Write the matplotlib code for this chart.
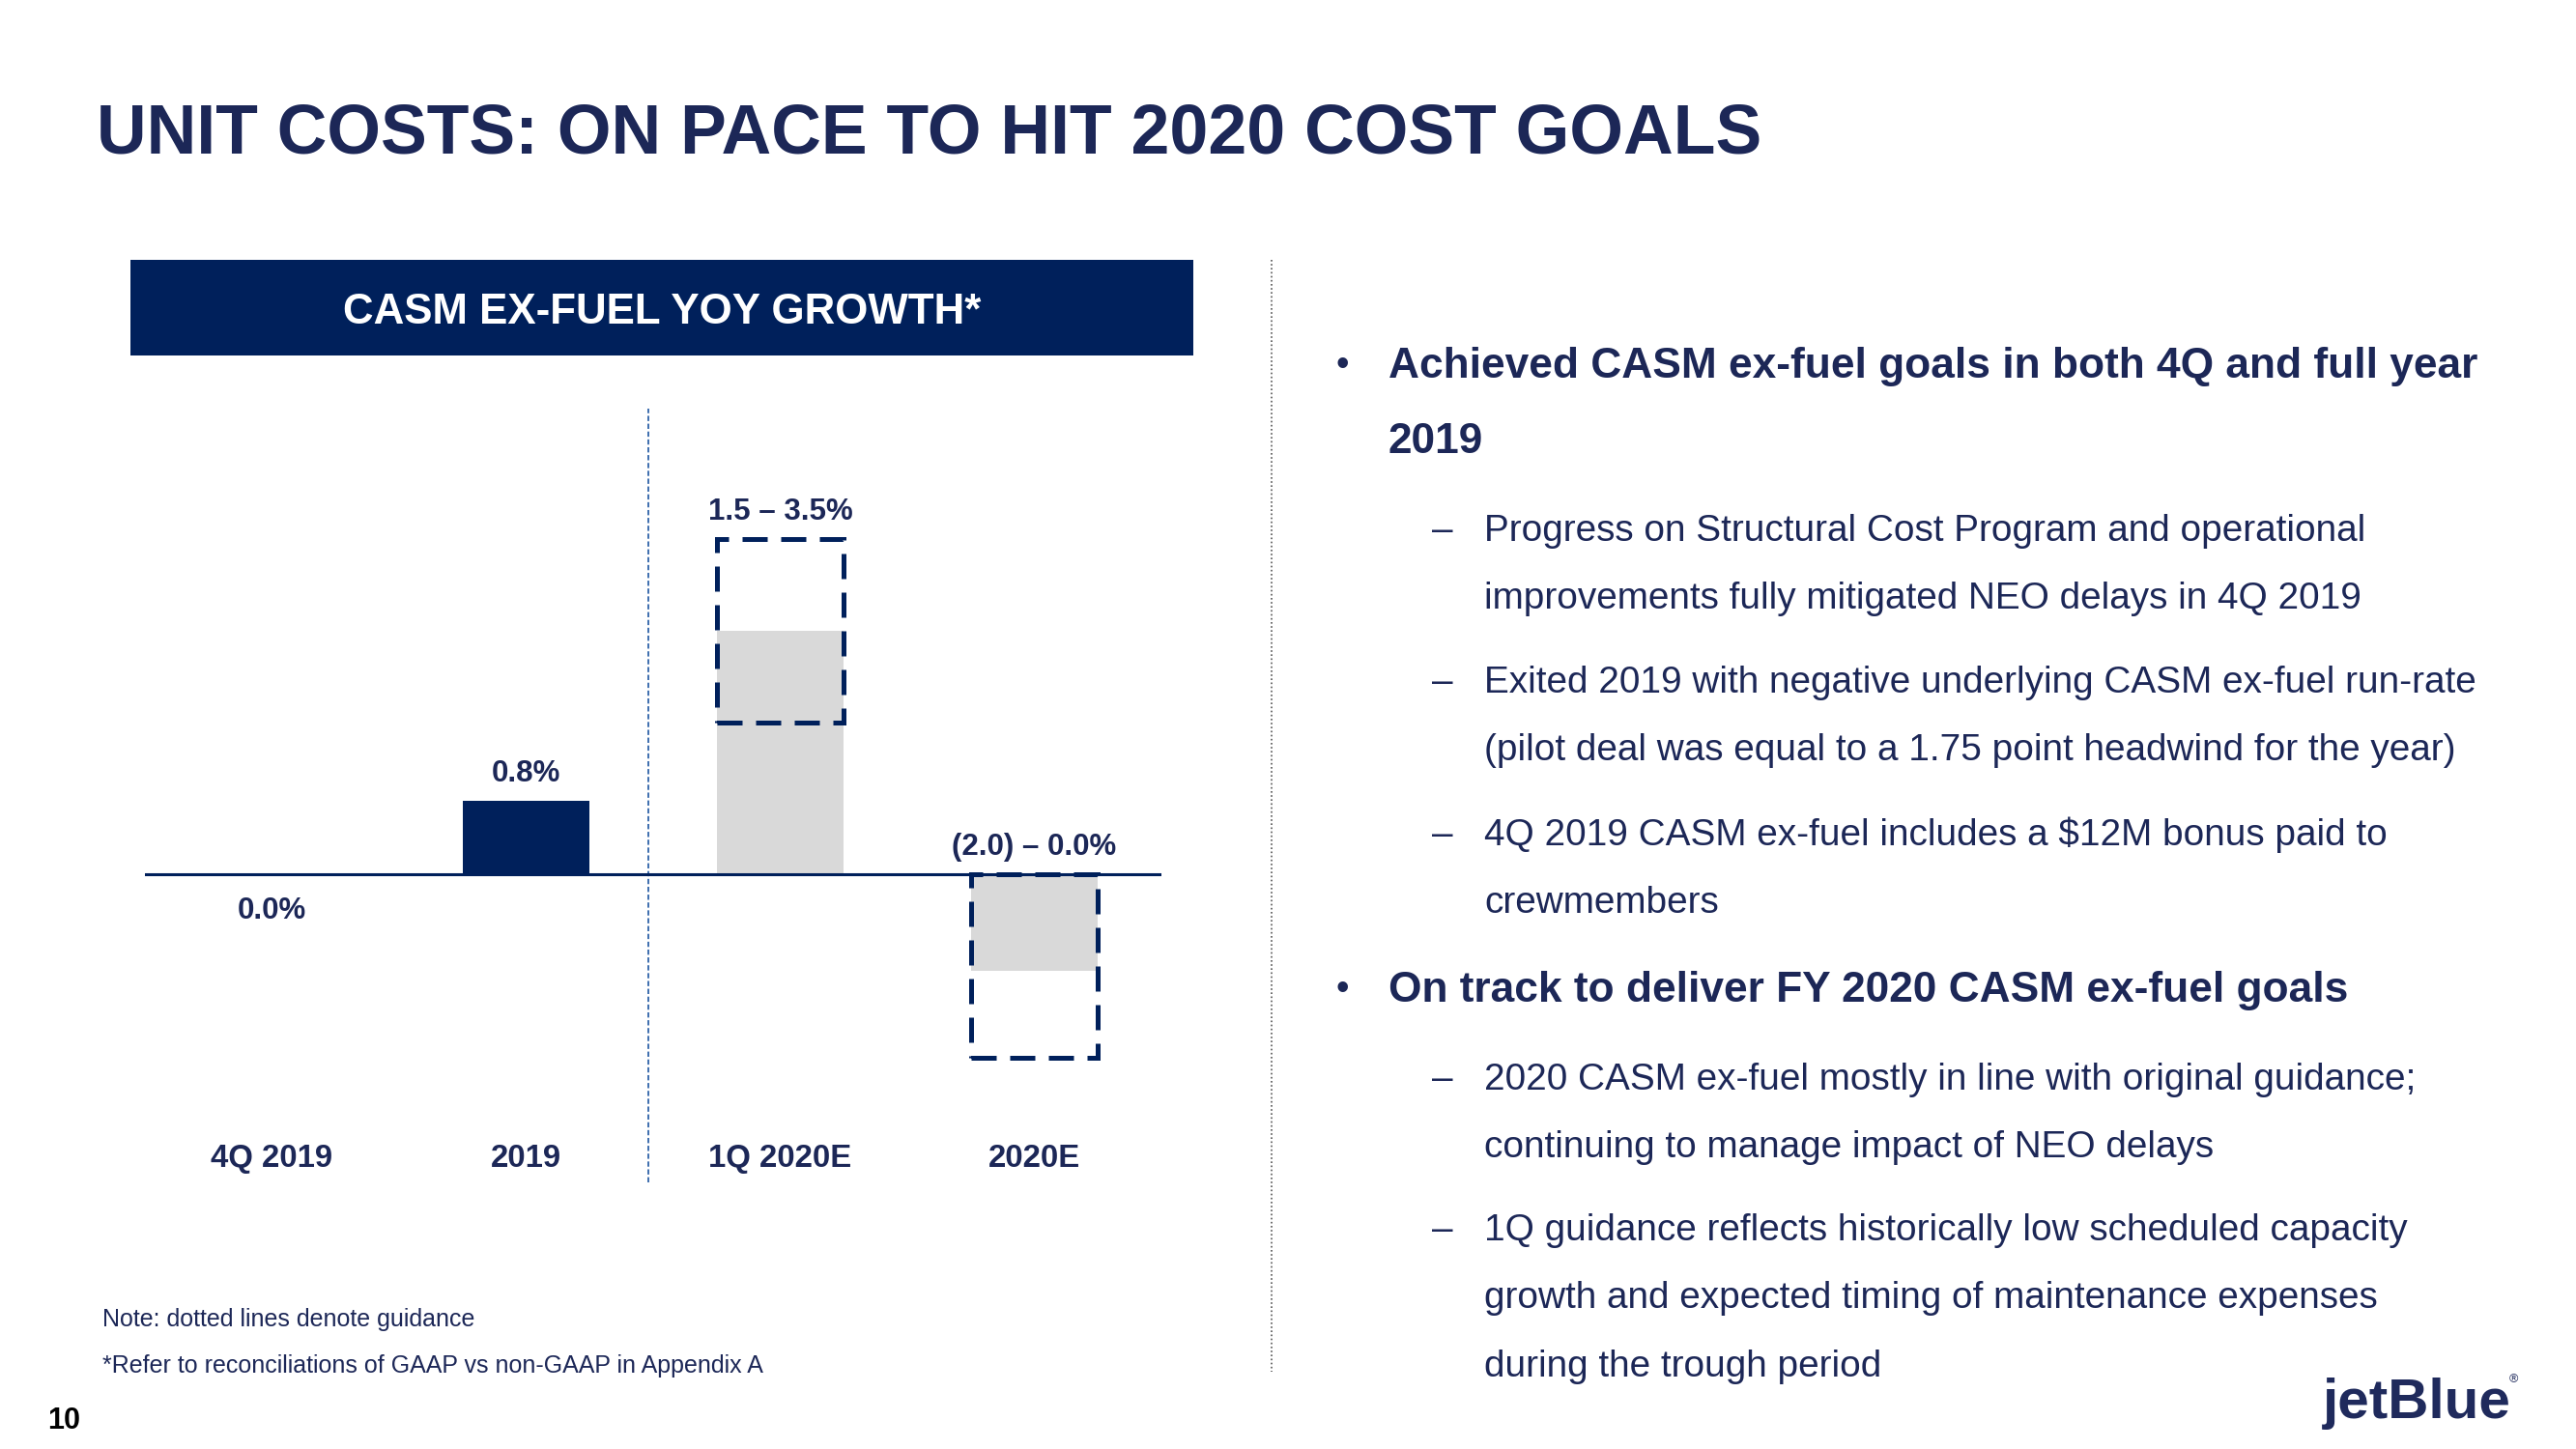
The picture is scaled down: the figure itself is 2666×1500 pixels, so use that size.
import matplotlib
matplotlib.use("Agg")
import matplotlib.pyplot as plt
from matplotlib.patches import Rectangle
from matplotlib.lines import Line2D

plt.rcParams['font.family'] = ['Liberation Sans', 'DejaVu Sans']

W, H = 2666, 1500
NAVY = "#00205B"
TEXT = "#1C2757"
GREY = "#D9D9D9"

# chart data (% yoy)
categories = ["4Q 2019", "2019", "1Q 2020E", "2020E"]
actual = [0.0, 0.8, 0.0, 0.0]
estimate = [0.0, 0.0, 2.65, -1.05]
guide_low = [None, None, 1.65, -2.0]
guide_high = [None, None, 3.65, 0.0]
value_labels = ["0.0%", "0.8%", "1.5 – 3.5%", "(2.0) – 0.0%"]

title = "UNIT COSTS: ON PACE TO HIT 2020 COST GOALS"
chart_title = "CASM EX-FUEL YOY GROWTH*"

bullet1 = ["Achieved CASM ex-fuel goals in both 4Q and full year", "2019"]
sub1 = [
    ["Progress on Structural Cost Program and operational",
     "improvements fully mitigated NEO delays in 4Q 2019"],
    ["Exited 2019 with negative underlying CASM ex-fuel run-rate",
     "(pilot deal was equal to a 1.75 point headwind for the year)"],
    ["4Q 2019 CASM ex-fuel includes a \\$12M bonus paid to",
     "crewmembers"],
]
bullet2 = ["On track to deliver FY 2020 CASM ex-fuel goals"]
sub2 = [
    ["2020 CASM ex-fuel mostly in line with original guidance;",
     "continuing to manage impact of NEO delays"],
    ["1Q guidance reflects historically low scheduled capacity",
     "growth and expected timing of maintenance expenses",
     "during the trough period"],
]
notes = ["Note: dotted lines denote guidance",
         "*Refer to reconciliations of GAAP vs non-GAAP in Appendix A"]

fig = plt.figure(figsize=(W / 100, H / 100), dpi=100)
fig.patch.set_facecolor("white")


def put(x, yc, s, size, **kw):
    # yc = visual centre of capitals in pixels from top
    base = yc + 0.358 * size / 0.72
    fig.text(x / W, 1 - base / H, s, fontsize=size, va="baseline", **kw)


# title
put(100, 133, title, 51.6, color=TEXT, fontweight="bold")

# chart header box
fig.add_artist(Rectangle((135 / W, 1 - 368 / H), 1100 / W, 99 / H,
                         transform=fig.transFigure, color=NAVY, lw=0))
put(685, 319, chart_title, 31.6, color="white", fontweight="bold", ha="center")

# chart
ax = fig.add_axes([150 / W, 1 - 1224 / H, 1052 / W, 801 / H])
ax.set_xlim(-0.5, 3.5)
ax.set_ylim(-3.36, 5.07)
ax.axis("off")

x = list(range(len(categories)))
ax.bar(x, estimate, width=0.5, color=GREY, zorder=1)
ax.bar(x, actual, width=0.5, color=NAVY, zorder=2)
for i in x:
    if guide_low[i] is not None:
        ax.add_patch(Rectangle((i - 0.25, guide_low[i]), 0.5,
                               guide_high[i] - guide_low[i], fill=False,
                               edgecolor=NAVY, lw=3.6,
                               linestyle=(0, (5.2, 2.8)), zorder=3))
ax.axhline(0, color=NAVY, lw=2.2, zorder=4)
ax.axvline(1.48, color="#2E62A8", lw=1.3, linestyle=(0, (3, 1.5)), zorder=0)

for i, lab in enumerate(value_labels):
    top = max(actual[i], guide_high[i] if guide_high[i] is not None else 0.0)
    y = top + 0.33 if (top > 0 or guide_high[i] is not None) else -0.37
    ax.text(i, y, lab, ha="center", va="center_baseline", fontsize=22.5,
            fontweight="bold", color=TEXT)
for i, cat in enumerate(categories):
    ax.text(i, -3.07, cat, ha="center", va="center_baseline", fontsize=23.7,
            fontweight="bold", color=TEXT)

# separator
fig.add_artist(Line2D([1316 / W, 1316 / W], [1 - 269 / H, 1 - 1420 / H],
                      transform=fig.transFigure, color="#555555", lw=1.2,
                      linestyle=(0, (1, 1.5))))

# right hand commentary
def bullet_block(lines, y0):
    put(1382, y0, "•", 28, color=TEXT)
    for k, s in enumerate(lines):
        put(1437, y0 + 78 * k, s, 31.9, color=TEXT, fontweight="bold")


def sub_block(lines, y0):
    put(1482, y0, "–", 27.9, color=TEXT)
    for k, s in enumerate(lines):
        put(1536, y0 + 70.5 * k, s, 27.9, color=TEXT)


bullet_block(bullet1, 375)
for lines, y0 in zip(sub1, [546, 703, 861]):
    sub_block(lines, y0)
bullet_block(bullet2, 1021)
for lines, y0 in zip(sub2, [1114, 1270]):
    sub_block(lines, y0)

# notes and footer
put(106, 1364, notes[0], 18, color=TEXT)
put(106, 1412, notes[1], 18, color=TEXT)
put(49, 1468, "10", 22, color="black", fontweight="bold")
fig.text(2404 / W, 1 - 1468 / H, "jetBlue", fontsize=42, fontweight="bold",
         color="#1F2A5C", va="baseline")
fig.text(2597 / W, 1 - 1428 / H, "®", fontsize=9, color="#1F2A5C",
         va="center")

fig.savefig("out.png", dpi=100)
